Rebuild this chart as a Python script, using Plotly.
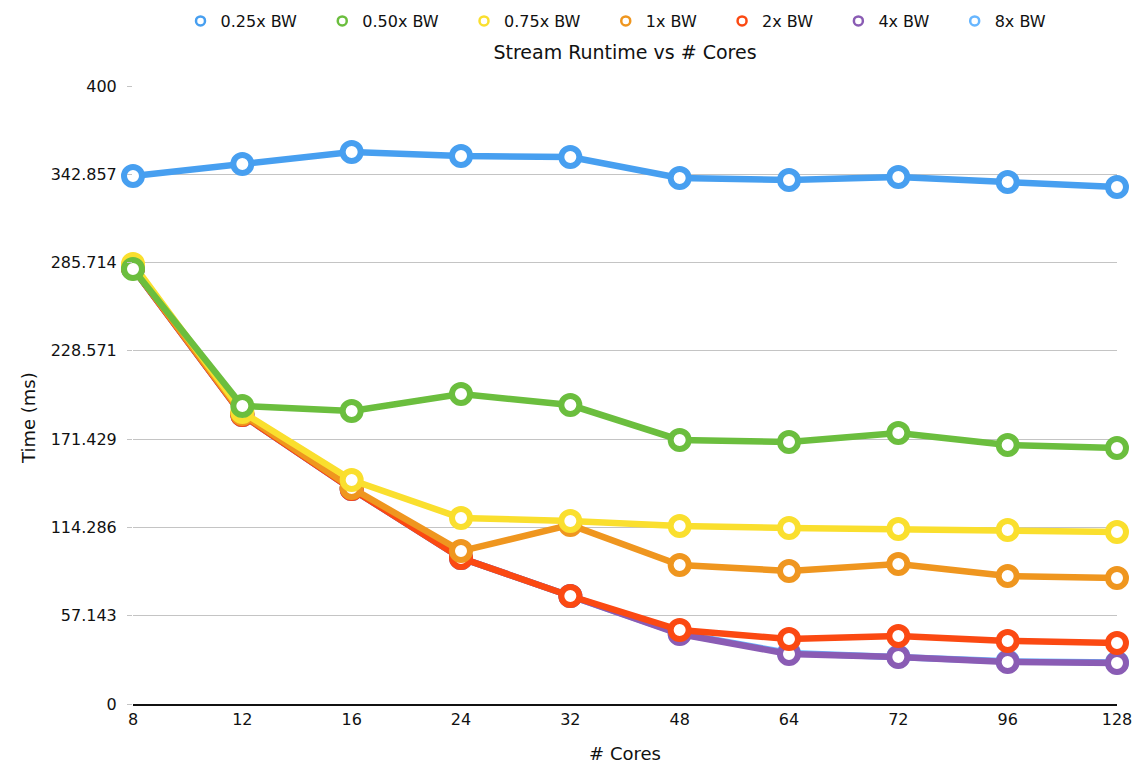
import plotly.graph_objects as go

# Core counts (categorical x axis)
cores = ["8", "12", "16", "24", "32", "48", "64", "72", "96", "128"]

# Runtime in ms for each bandwidth multiplier
bw_025 = [341.7, 349.5, 357.3, 354.7, 354.0, 340.5, 339.2, 341.1, 337.9, 334.6]
bw_050 = [281.6, 192.9, 189.6, 200.6, 193.5, 170.9, 169.6, 175.4, 167.6, 165.7]
bw_075 = [284.8, 189.0, 145.0, 120.4, 118.4, 115.2, 113.9, 113.3, 112.6, 111.3]
bw_1 = [282.5, 187.7, 139.8, 99.0, 115.9, 90.0, 86.1, 90.6, 82.8, 81.6]
bw_2 = [282.0, 187.0, 139.2, 94.5, 69.9, 47.9, 42.1, 44.0, 40.8, 39.5]
bw_4 = [282.0, 187.0, 139.2, 94.5, 69.9, 45.3, 32.4, 30.4, 27.2, 26.5]
bw_8 = [282.0, 187.0, 139.2, 94.5, 69.9, 45.6, 33.0, 30.8, 27.6, 26.9]

series_names = ["0.25x BW", "0.50x BW", "0.75x BW", "1x BW", "2x BW", "4x BW", "8x BW"]
series_values = [bw_025, bw_050, bw_075, bw_1, bw_2, bw_4, bw_8]
series_colors = ["#479FF0", "#6BBE3E", "#FADF2E", "#EF961F", "#FB4912", "#8A5CB4", "#67B6FF"]

# Y axis ticks: 7 equal steps up to 400
y_tickvals = [0, 400 / 7, 800 / 7, 1200 / 7, 1600 / 7, 2000 / 7, 2400 / 7, 400]
y_ticktext = ["0", "57.143", "114.286", "171.429", "228.571", "285.714", "342.857", "400"]

FONT = "DejaVu Sans, Liberation Sans, Arial, sans-serif"
W, H = 1135, 764
ML, MR, MT, MB = 133, 18, 86, 60

fig = go.Figure()

# Draw the slowest series last so it sits on top
for name, vals, col in reversed(list(zip(series_names, series_values, series_colors))):
    fig.add_trace(go.Scatter(
        x=cores, y=vals, mode="lines+markers", name=name,
        line=dict(color=col, width=6.5),
        marker=dict(symbol="circle", size=18, color="white",
                    line=dict(color=col, width=6)),
        cliponaxis=False, showlegend=False,
    ))

# Legend entries: small ring markers only (trailing spaces widen the gap between entries)
for name, col in reversed(list(zip(series_names, series_colors))):
    fig.add_trace(go.Scatter(
        x=[None], y=[None], mode="markers", name=name + "\u00a0" * 4,
        marker=dict(symbol="circle", size=9, color="white",
                    line=dict(color=col, width=2.5)),
        showlegend=True,
    ))

fig.update_layout(
    width=W, height=H,
    paper_bgcolor="white", plot_bgcolor="white",
    margin=dict(l=ML, r=MR, t=MT, b=MB, autoexpand=False),
    font=dict(family=FONT, size=16, color="#111111"),
    title=dict(text="Stream Runtime vs # Cores", x=625 / W, xanchor="center",
               y=1 - 52 / H, yanchor="middle", yref="container",
               font=dict(size=19, color="#111111")),
    legend=dict(orientation="h", traceorder="reversed",
                x=626 / W, xanchor="center", xref="container",
                y=1 - 4 / H, yanchor="top", yref="container",
                font=dict(size=16), itemwidth=30, bgcolor="rgba(0,0,0,0)"),
    xaxis=dict(type="category", range=[0, 9], showgrid=False, zeroline=False,
               showline=True, linecolor="#111111", linewidth=2, ticks="",
               automargin=False,
               title=dict(text="# Cores", font=dict(size=18), standoff=22),
               tickfont=dict(size=16)),
    yaxis=dict(range=[0, 400], tickvals=y_tickvals, ticktext=y_ticktext,
               showgrid=True, gridcolor="#C4C4C4", gridwidth=1, zeroline=False,
               showline=False, ticks="outside", ticklen=5, tickcolor="#C4C4C4",
               ticklabelstandoff=7, automargin=False,
               tickfont=dict(size=16)),
    annotations=[dict(text="Time (ms)", textangle=-90, showarrow=False,
                      xref="paper", yref="paper",
                      x=(28 - ML) / (W - ML - MR), y=(H - MB - 418) / (H - MT - MB),
                      xanchor="center", yanchor="middle",
                      font=dict(size=18, color="#111111"))],
)

fig.write_html("out.html")
